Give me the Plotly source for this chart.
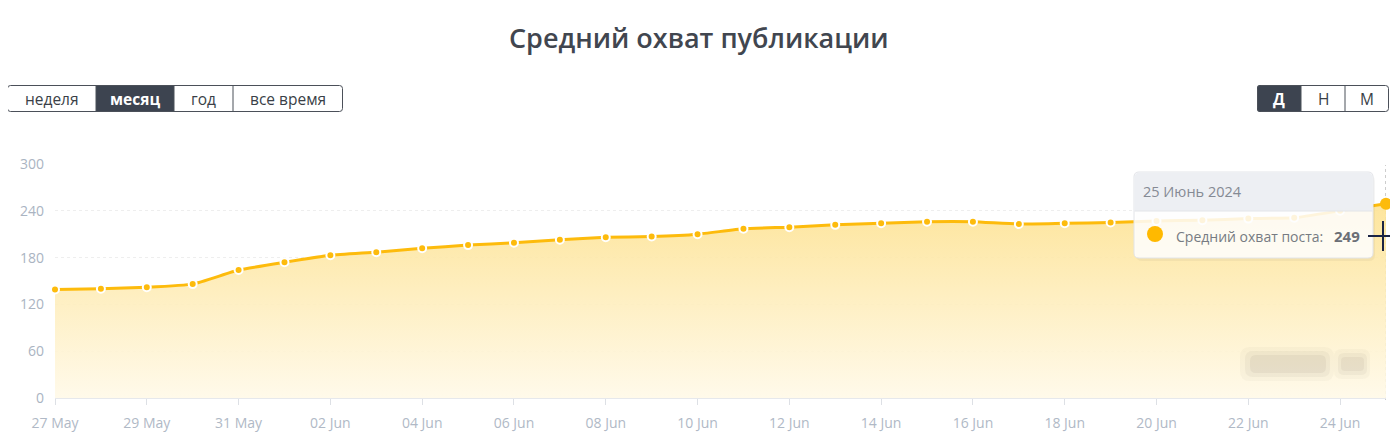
import plotly.graph_objects as go

# ---- data ----
dates = [
    "2024-05-27", "2024-05-28", "2024-05-29", "2024-05-30", "2024-05-31",
    "2024-06-01", "2024-06-02", "2024-06-03", "2024-06-04", "2024-06-05",
    "2024-06-06", "2024-06-07", "2024-06-08", "2024-06-09", "2024-06-10",
    "2024-06-11", "2024-06-12", "2024-06-13", "2024-06-14", "2024-06-15",
    "2024-06-16", "2024-06-17", "2024-06-18", "2024-06-19", "2024-06-20",
    "2024-06-21", "2024-06-22", "2024-06-23", "2024-06-24", "2024-06-25",
]
reach = [139, 140, 142, 146, 164, 174, 183, 187, 192, 196,
         199, 203, 206, 207, 210, 217, 219, 222, 224, 226,
         226, 223, 224, 225, 227, 228, 230, 231, 240, 249]

title_text = "Средний охват публикации"
period_buttons = ["неделя", "месяц", "год", "все время"]
period_active = "месяц"
group_buttons = ["Д", "Н", "М"]
group_active = "Д"
series_name = "Средний охват поста:"
tooltip_title = "25 Июнь 2024"

OFF = 8  # page body margin
W, H = 1398 - OFF, 447 - OFF
ML = 55 - OFF
MR = W - (1386 - OFF)
MT = 164 - OFF
MB = H - (398 - OFF)
PW, PH = W - ML - MR, H - MT - MB


def px(x):
    return (x - OFF - ML) / PW


def py(y):
    return (H - MB - (y - OFF)) / PH


def rrect(x0, y0, x1, y1, r, tl=True, tr=True, br=True, bl=True):
    """Rounded rect path in paper coords from window pixel coords."""
    def P(x, y):
        return f"{px(x)},{py(y)}"
    p = []
    p.append("M " + P(x0 + (r if tl else 0), y0))
    p.append("L " + P(x1 - (r if tr else 0), y0))
    if tr:
        p.append("Q " + P(x1, y0) + " " + P(x1, y0 + r))
    p.append("L " + P(x1, y1 - (r if br else 0)))
    if br:
        p.append("Q " + P(x1, y1) + " " + P(x1 - r, y1))
    p.append("L " + P(x0 + (r if bl else 0), y1))
    if bl:
        p.append("Q " + P(x0, y1) + " " + P(x0, y1 - r))
    p.append("L " + P(x0, y0 + (r if tl else 0)))
    if tl:
        p.append("Q " + P(x0, y0) + " " + P(x0 + r, y0))
    p.append("Z")
    return " ".join(p)


LINE = "#fdbb0c"
FONT = "Open Sans"

fig = go.Figure()
fig.add_trace(go.Scatter(
    x=dates, y=reach, mode="lines+markers",
    line=dict(color=LINE, width=3, shape="spline", smoothing=0.4),
    marker=dict(size=8, color=LINE, line=dict(color="white", width=2)),
    fill="tozeroy",
    fillgradient=dict(type="vertical", start=0, stop=250,
                      colorscale=[[0, "rgba(255,249,232,0.9)"], [1, "rgba(253,226,145,0.9)"]]),
    hoverinfo="skip", showlegend=False, cliponaxis=False,
))
fig.add_trace(go.Scatter(
    x=[dates[-1]], y=[reach[-1]], mode="markers",
    marker=dict(size=12, color=LINE), hoverinfo="skip", showlegend=False,
    cliponaxis=False,
))

shapes = []
annotations = []

# title
annotations.append(dict(text=title_text, x=px(699), y=py(38), xref="paper", yref="paper",
                        showarrow=False, font=dict(family=FONT, size=27, color="#41464f", weight=600),
                        xanchor="center", yanchor="middle"))


# button groups
def button_group(labels, active, edges, y0, y1):
    x0, x1 = edges[0], edges[-1]
    for i, lab in enumerate(labels):
        a, b = edges[i], edges[i + 1]
        if lab == active:
            shapes.append(dict(type="path", xref="paper", yref="paper", layer="above",
                               path=rrect(a, y0, b, y1, 3, tl=(i == 0), bl=(i == 0),
                                          tr=(i == len(labels) - 1), br=(i == len(labels) - 1)),
                               fillcolor="#3d4450", line=dict(width=0)))
        annotations.append(dict(text=(f"<b>{lab}</b>" if lab == active else lab),
                                x=px((a + b) / 2), y=py((y0 + y1) / 2), xref="paper", yref="paper",
                                showarrow=False, xanchor="center", yanchor="middle",
                                font=dict(family=FONT, size=15.5,
                                          color="white" if lab == active else "#3a3f47")))
    shapes.append(dict(type="path", xref="paper", yref="paper", layer="above",
                       path=rrect(x0 + 0.5, y0 + 0.5, x1 - 0.5, y1 - 0.5, 3),
                       line=dict(color="#4b5059", width=1)))
    for e in edges[1:-1]:
        shapes.append(dict(type="line", xref="paper", yref="paper", layer="above",
                           x0=px(e), x1=px(e), y0=py(y0), y1=py(y1),
                           line=dict(color="#4b5059", width=1)))


button_group(period_buttons, period_active, [7, 96, 174, 233, 343], 85, 112)
button_group(group_buttons, group_active, [1257, 1301, 1345, 1389], 85, 112)

# hover crosshair vertical line
shapes.append(dict(type="line", xref="x", yref="paper", x0=dates[-1], x1=dates[-1],
                   y0=py(400), y1=py(165), layer="below",
                   line=dict(color="#9a9a9a", width=1, dash="dot")))

# blurred watermark
for (a, b, c, d, op, r) in [(1240, 347, 1334, 381, 0.04, 10), (1245, 351, 1330, 377, 0.06, 8),
                            (1250, 355, 1326, 373, 0.08, 6),
                            (1334, 349, 1370, 379, 0.04, 8), (1338, 353, 1367, 375, 0.06, 6),
                            (1341, 357, 1364, 371, 0.07, 4)]:
    shapes.append(dict(type="path", xref="paper", yref="paper", layer="above",
                       path=rrect(a, b, c, d, r), fillcolor=f"rgba(110,100,85,{op})",
                       line=dict(width=0)))

# tooltip
shapes.append(dict(type="path", xref="paper", yref="paper", layer="above",
                   path=rrect(1136, 175, 1375, 261, 6), fillcolor="rgba(0,0,0,0.04)",
                   line=dict(width=0)))
shapes.append(dict(type="path", xref="paper", yref="paper", layer="above",
                   path=rrect(1134, 172, 1373, 258, 5), fillcolor="rgba(255,255,255,0.86)",
                   line=dict(color="#e2e4e8", width=1)))
shapes.append(dict(type="path", xref="paper", yref="paper", layer="above",
                   path=rrect(1134.5, 172.5, 1372.5, 211, 5, bl=False, br=False),
                   fillcolor="rgba(236,238,242,0.95)", line=dict(width=0)))
shapes.append(dict(type="line", xref="paper", yref="paper", layer="above",
                   x0=px(1134.5), x1=px(1372.5), y0=py(211), y1=py(211),
                   line=dict(color="#e2e4e8", width=1)))
shapes.append(dict(type="circle", xref="paper", yref="paper", layer="above",
                   x0=px(1147), x1=px(1163), y0=py(226), y1=py(242),
                   fillcolor="#ffb900", line=dict(width=0)))
annotations.append(dict(text=tooltip_title, x=px(1141), y=py(191), xref="paper", yref="paper",
                        showarrow=False, xanchor="left", yanchor="middle",
                        font=dict(family=FONT, size=14.5, color="#858a94")))
annotations.append(dict(text=series_name, x=px(1174), y=py(236), xref="paper", yref="paper",
                        showarrow=False, xanchor="left", yanchor="middle",
                        font=dict(family=FONT, size=14, color="#777b82")))
annotations.append(dict(text=f"<b>{reach[-1]}</b>", x=px(1362), y=py(236), xref="paper", yref="paper",
                        showarrow=False, xanchor="right", yanchor="middle",
                        font=dict(family=FONT, size=15, color="#6b6f76")))

# mouse cursor cross
shapes.append(dict(type="line", xref="paper", yref="paper", layer="above",
                   x0=px(1368), x1=px(1398), y0=py(236), y1=py(236),
                   line=dict(color="#1b2445", width=2)))
shapes.append(dict(type="line", xref="paper", yref="paper", layer="above",
                   x0=px(1383), x1=px(1383), y0=py(221), y1=py(251),
                   line=dict(color="#1b2445", width=2)))

fig.update_layout(
    width=W, height=H,
    margin=dict(l=ML, r=MR, t=MT, b=MB),
    paper_bgcolor="white", plot_bgcolor="white",
    font=dict(family=FONT),
    shapes=shapes, annotations=annotations,
    hovermode=False,
    xaxis=dict(
        type="date", range=[dates[0], dates[-1]],
        tick0=dates[0], dtick=2 * 86400000, tickformat="%d %b",
        showgrid=False, zeroline=False,
        showline=True, linecolor="#e6e8ec", linewidth=1,
        ticks="outside", ticklen=6, tickcolor="#dde0e5",
        ticklabelstandoff=6,
        tickfont=dict(family=FONT, size=14, color="#b0b9c6"),
    ),
    yaxis=dict(
        range=[0, 300], dtick=60, tick0=0,
        showgrid=True, gridcolor="#eeeeee", griddash="dot", gridwidth=1,
        zeroline=False, showline=False,
        ticklabelstandoff=10,
        tickfont=dict(family=FONT, size=14, color="#aab4c2"),
    ),
)

fig.write_html("out.html")
